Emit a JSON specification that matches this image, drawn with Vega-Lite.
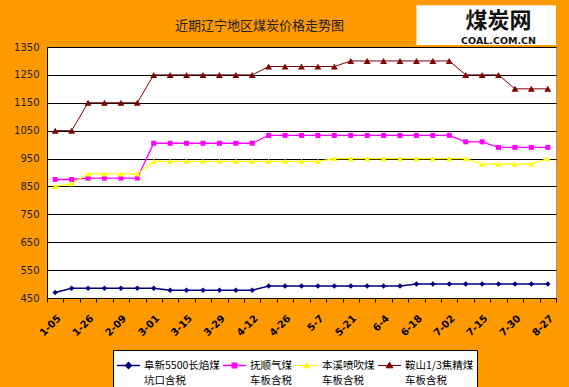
{
 "$schema": "https://vega.github.io/schema/vega-lite/v6.json",
 "width": 509, "height": 251,
 "autosize": "none",
 "padding": {"left": 47, "top": 47, "right": 13, "bottom": 89},
 "background": "#FF9900",
 "title": {"text": "近期辽宁地区煤炭价格走势图", "font": "Noto Sans CJK SC", "fontSize": 13, "fontWeight": "normal", "color": "#222", "anchor": "middle", "dx": -42, "offset": 0, "dy": 28},
 "config": {
  "view": {"stroke": "#999", "fill": "white"},
  "axisX": {"title": null, "labelAngle": -45, "labelFont": "DejaVu Sans", "labelFontSize": 10, "labelFontWeight": "bold", "labelColor": "#000", "tickBand": "extent", "tickColor": "#000", "tickSize": 4, "domainColor": "#000", "grid": false, "labelPadding": 11, "labelDx": -5},
  "axisY": {"title": null, "ticks": false, "labelPadding": 8, "labelFont": "DejaVu Sans", "labelFontSize": 10, "labelColor": "#222", "gridColor": "#000", "gridOpacity": 1, "domainColor": "#000", "labelOverlap": false}
 },
 "data": {"values": [
  {"d":"1-05","s":"a","v":470},{"d":"1-05","s":"b","v":875},{"d":"1-05","s":"c","v":850},{"d":"1-05","s":"d","v":1050},
  {"d":"1-12","s":"a","v":485},{"d":"1-12","s":"b","v":875},{"d":"1-12","s":"c","v":860},{"d":"1-12","s":"d","v":1050},
  {"d":"1-26","s":"a","v":485},{"d":"1-26","s":"b","v":880},{"d":"1-26","s":"c","v":895},{"d":"1-26","s":"d","v":1150},
  {"d":"2-02","s":"a","v":485},{"d":"2-02","s":"b","v":880},{"d":"2-02","s":"c","v":895},{"d":"2-02","s":"d","v":1150},
  {"d":"2-09","s":"a","v":485},{"d":"2-09","s":"b","v":880},{"d":"2-09","s":"c","v":895},{"d":"2-09","s":"d","v":1150},
  {"d":"2-22","s":"a","v":485},{"d":"2-22","s":"b","v":880},{"d":"2-22","s":"c","v":895},{"d":"2-22","s":"d","v":1150},
  {"d":"3-01","s":"a","v":485},{"d":"3-01","s":"b","v":1005},{"d":"3-01","s":"c","v":940},{"d":"3-01","s":"d","v":1250},
  {"d":"3-08","s":"a","v":478},{"d":"3-08","s":"b","v":1005},{"d":"3-08","s":"c","v":940},{"d":"3-08","s":"d","v":1250},
  {"d":"3-15","s":"a","v":478},{"d":"3-15","s":"b","v":1005},{"d":"3-15","s":"c","v":940},{"d":"3-15","s":"d","v":1250},
  {"d":"3-22","s":"a","v":478},{"d":"3-22","s":"b","v":1005},{"d":"3-22","s":"c","v":940},{"d":"3-22","s":"d","v":1250},
  {"d":"3-29","s":"a","v":478},{"d":"3-29","s":"b","v":1005},{"d":"3-29","s":"c","v":940},{"d":"3-29","s":"d","v":1250},
  {"d":"4-05","s":"a","v":478},{"d":"4-05","s":"b","v":1005},{"d":"4-05","s":"c","v":940},{"d":"4-05","s":"d","v":1250},
  {"d":"4-12","s":"a","v":478},{"d":"4-12","s":"b","v":1005},{"d":"4-12","s":"c","v":940},{"d":"4-12","s":"d","v":1250},
  {"d":"4-19","s":"a","v":493},{"d":"4-19","s":"b","v":1033},{"d":"4-19","s":"c","v":940},{"d":"4-19","s":"d","v":1280},
  {"d":"4-26","s":"a","v":493},{"d":"4-26","s":"b","v":1033},{"d":"4-26","s":"c","v":940},{"d":"4-26","s":"d","v":1280},
  {"d":"5-01","s":"a","v":493},{"d":"5-01","s":"b","v":1033},{"d":"5-01","s":"c","v":940},{"d":"5-01","s":"d","v":1280},
  {"d":"5-7","s":"a","v":493},{"d":"5-7","s":"b","v":1033},{"d":"5-7","s":"c","v":940},{"d":"5-7","s":"d","v":1280},
  {"d":"5-14","s":"a","v":493},{"d":"5-14","s":"b","v":1033},{"d":"5-14","s":"c","v":950},{"d":"5-14","s":"d","v":1280},
  {"d":"5-21","s":"a","v":493},{"d":"5-21","s":"b","v":1033},{"d":"5-21","s":"c","v":950},{"d":"5-21","s":"d","v":1300},
  {"d":"5-28","s":"a","v":493},{"d":"5-28","s":"b","v":1033},{"d":"5-28","s":"c","v":950},{"d":"5-28","s":"d","v":1300},
  {"d":"6-4","s":"a","v":493},{"d":"6-4","s":"b","v":1033},{"d":"6-4","s":"c","v":950},{"d":"6-4","s":"d","v":1300},
  {"d":"6-11","s":"a","v":493},{"d":"6-11","s":"b","v":1033},{"d":"6-11","s":"c","v":950},{"d":"6-11","s":"d","v":1300},
  {"d":"6-18","s":"a","v":500},{"d":"6-18","s":"b","v":1033},{"d":"6-18","s":"c","v":950},{"d":"6-18","s":"d","v":1300},
  {"d":"6-25","s":"a","v":500},{"d":"6-25","s":"b","v":1033},{"d":"6-25","s":"c","v":950},{"d":"6-25","s":"d","v":1300},
  {"d":"7-02","s":"a","v":500},{"d":"7-02","s":"b","v":1033},{"d":"7-02","s":"c","v":950},{"d":"7-02","s":"d","v":1300},
  {"d":"7-09","s":"a","v":500},{"d":"7-09","s":"b","v":1010},{"d":"7-09","s":"c","v":950},{"d":"7-09","s":"d","v":1250},
  {"d":"7-15","s":"a","v":500},{"d":"7-15","s":"b","v":1010},{"d":"7-15","s":"c","v":930},{"d":"7-15","s":"d","v":1250},
  {"d":"7-22","s":"a","v":500},{"d":"7-22","s":"b","v":990},{"d":"7-22","s":"c","v":930},{"d":"7-22","s":"d","v":1250},
  {"d":"7-30","s":"a","v":500},{"d":"7-30","s":"b","v":990},{"d":"7-30","s":"c","v":930},{"d":"7-30","s":"d","v":1200},
  {"d":"8-13","s":"a","v":500},{"d":"8-13","s":"b","v":990},{"d":"8-13","s":"c","v":930},{"d":"8-13","s":"d","v":1200},
  {"d":"8-27","s":"a","v":500},{"d":"8-27","s":"b","v":990},{"d":"8-27","s":"c","v":950},{"d":"8-27","s":"d","v":1200}
 ]},
 "layer": [
  {"mark": {"type": "line"},
   "encoding": {
    "x": {"field": "d", "type": "ordinal", "sort": null, "bandPosition": 0.5,
     "scale": {"type": "band", "paddingInner": 0, "paddingOuter": 0,
      "domain": ["1-05","1-12","1-26","2-02","2-09","2-22","3-01","3-08","3-15","3-22","3-29","4-05","4-12","4-19","4-26","5-01","5-7","5-14","5-21","5-28","6-4","6-11","6-18","6-25","7-02","7-09","7-15","7-22","7-30","8-13","8-27"]},
     "axis": {"labelExpr": "indexof(['1-05','1-26','2-09','3-01','3-15','3-29','4-12','4-26','5-7','5-21','6-4','6-18','7-02','7-15','7-30','8-27'], datum.value) >= 0 ? datum.label : ''"}},
    "y": {"field": "v", "type": "quantitative", "scale": {"domain": [450, 1350], "nice": false, "zero": false},
     "axis": {"values": [450,550,650,750,850,950,1050,1150,1250,1350], "format": "d"}},
    "color": {"field": "s", "type": "nominal",
     "scale": {"domain": ["a","b","c","d"], "range": ["#000080","#FF00FF","#FFFF00","#800000"]},
     "legend": {"orient": "none", "legendX": 66, "legendY": 303, "direction": "horizontal", "columns": 4, "title": null,
      "fillColor": "white", "strokeColor": "#000", "padding": 3, "symbolSize": 530,
      "labelFont": "Noto Sans CJK SC", "labelFontSize": 10.5, "labelColor": "#000", "labelLimit": 200, "columnPadding": 0, "labelOffset": 3,
      "labelExpr": "datum.value == 'a' ? ['阜新5500长焰煤', '坑口含税'] : datum.value == 'b' ? ['抚顺气煤', '车板含税'] : datum.value == 'c' ? ['本溪喷吹煤', '车板含税'] : ['鞍山1/3焦精煤', '车板含税']",
      "encode": {
       "labels": {"update": {"lineHeight": {"value": 15}}},
       "symbols": {"update": {
        "shape": {"signal": "datum.value == 'a' ? 'M-1,0H1M0,-0.25L0.25,0L0,0.25L-0.25,0Z' : datum.value == 'b' ? 'M-1,0H1M-0.2,-0.2H0.2V0.2H-0.2Z' : datum.value == 'c' ? 'M-1,0H1M0,-0.24L0.26,0.18H-0.26Z' : 'M-1,0H1M0,-0.28L0.3,0.2H-0.3Z'"},
        "strokeWidth": {"signal": "datum.value == 'd' ? 2.5 : datum.value == 'a' ? 1.5 : 1"},
        "fill": {"scale": "color", "field": "value"},
        "stroke": {"scale": "color", "field": "value"},
        "opacity": {"value": 1}, "fillOpacity": {"value": 1}, "strokeOpacity": {"value": 1}}}}}},
    "strokeWidth": {"field": "s", "type": "nominal", "scale": {"domain": ["a","b","c","d"], "range": [1.5, 1, 1, 2.5]}, "legend": null}}},
  {"transform": [{"filter": "datum.s == 'a'"}],
   "mark": {"type": "point", "shape": "diamond", "filled": true, "opacity": 1, "color": "#000080", "size": 30},
   "encoding": {
    "x": {"field": "d", "type": "ordinal", "sort": null, "bandPosition": 0.5,
     "axis": {"labelExpr": "indexof(['1-05','1-26','2-09','3-01','3-15','3-29','4-12','4-26','5-7','5-21','6-4','6-18','7-02','7-15','7-30','8-27'], datum.value) >= 0 ? datum.label : ''"}},
    "y": {"field": "v", "type": "quantitative", "axis": {"values": [450,550,650,750,850,950,1050,1150,1250,1350], "format": "d"}}}},
  {"transform": [{"filter": "datum.s == 'b'"}],
   "mark": {"type": "point", "shape": "square", "filled": true, "opacity": 1, "color": "#FF00FF", "size": 25},
   "encoding": {
    "x": {"field": "d", "type": "ordinal", "sort": null, "bandPosition": 0.5,
     "axis": {"labelExpr": "indexof(['1-05','1-26','2-09','3-01','3-15','3-29','4-12','4-26','5-7','5-21','6-4','6-18','7-02','7-15','7-30','8-27'], datum.value) >= 0 ? datum.label : ''"}},
    "y": {"field": "v", "type": "quantitative", "axis": {"values": [450,550,650,750,850,950,1050,1150,1250,1350], "format": "d"}}}},
  {"transform": [{"filter": "datum.s == 'c'"}],
   "mark": {"type": "point", "shape": "triangle-up", "filled": true, "opacity": 1, "color": "#FFFF00", "size": 36},
   "encoding": {
    "x": {"field": "d", "type": "ordinal", "sort": null, "bandPosition": 0.5,
     "axis": {"labelExpr": "indexof(['1-05','1-26','2-09','3-01','3-15','3-29','4-12','4-26','5-7','5-21','6-4','6-18','7-02','7-15','7-30','8-27'], datum.value) >= 0 ? datum.label : ''"}},
    "y": {"field": "v", "type": "quantitative", "axis": {"values": [450,550,650,750,850,950,1050,1150,1250,1350], "format": "d"}}}},
  {"transform": [{"filter": "datum.s == 'd'"}],
   "mark": {"type": "point", "shape": "triangle-up", "filled": true, "opacity": 1, "color": "#800000", "size": 48},
   "encoding": {
    "x": {"field": "d", "type": "ordinal", "sort": null, "bandPosition": 0.5,
     "axis": {"labelExpr": "indexof(['1-05','1-26','2-09','3-01','3-15','3-29','4-12','4-26','5-7','5-21','6-4','6-18','7-02','7-15','7-30','8-27'], datum.value) >= 0 ? datum.label : ''"}},
    "y": {"field": "v", "type": "quantitative", "axis": {"values": [450,550,650,750,850,950,1050,1150,1250,1350], "format": "d"}}}},
  {"data": {"values": [{"logo": "煤炭网"}]},
   "mark": {"type": "rect", "color": "white", "clip": false},
   "encoding": {
    "x": {"datum": "6-18", "axis": {"labelExpr": "indexof(['1-05','1-26','2-09','3-01','3-15','3-29','4-12','4-26','5-7','5-21','6-4','6-18','7-02','7-15','7-30','8-27'], datum.value) >= 0 ? datum.label : ''"}},
    "x2": {"datum": "8-27", "bandPosition": 1},
    "y": {"datum": 1357, "axis": {"values": [450,550,650,750,850,950,1050,1150,1250,1350], "format": "d"}},
    "y2": {"datum": 1500}}},
  {"data": {"values": [{"logo": "煤炭网"}]},
   "mark": {"type": "text", "font": "Noto Sans CJK SC", "fontSize": 22, "fontWeight": "bold", "color": "#111", "clip": false},
   "encoding": {"text": {"field": "logo"},
    "x": {"datum": "7-22", "axis": {"labelExpr": "indexof(['1-05','1-26','2-09','3-01','3-15','3-29','4-12','4-26','5-7','5-21','6-4','6-18','7-02','7-15','7-30','8-27'], datum.value) >= 0 ? datum.label : ''"}},
    "y": {"datum": 1442, "axis": {"values": [450,550,650,750,850,950,1050,1150,1250,1350], "format": "d"}}}},
  {"data": {"values": [{"logo": "COAL.COM.CN"}]},
   "mark": {"type": "text", "font": "DejaVu Sans", "fontSize": 9.5, "fontWeight": "bold", "color": "#111", "clip": false},
   "encoding": {"text": {"field": "logo"},
    "x": {"datum": "7-22", "axis": {"labelExpr": "indexof(['1-05','1-26','2-09','3-01','3-15','3-29','4-12','4-26','5-7','5-21','6-4','6-18','7-02','7-15','7-30','8-27'], datum.value) >= 0 ? datum.label : ''"}},
    "y": {"datum": 1371, "axis": {"values": [450,550,650,750,850,950,1050,1150,1250,1350], "format": "d"}}}}
 ]
}
